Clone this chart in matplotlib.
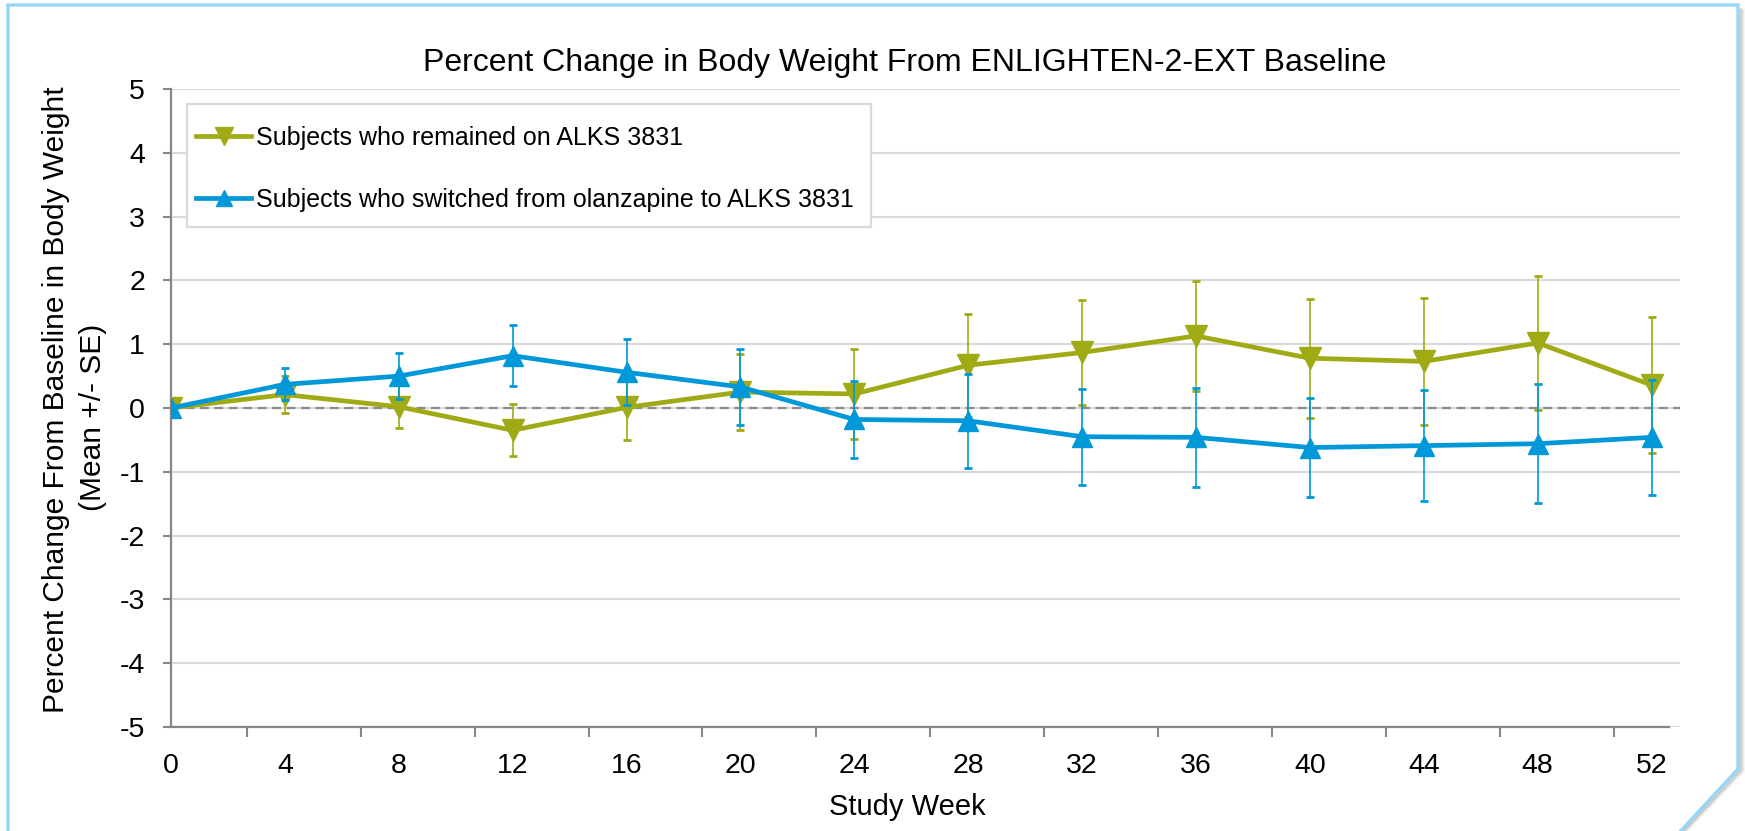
import matplotlib
matplotlib.use("Agg")
import matplotlib.pyplot as plt
from matplotlib.lines import Line2D
from matplotlib.patches import Rectangle
import numpy as np

plt.rcParams['font.family'] = ['Liberation Sans', 'DejaVu Sans']

# ---- data ----
weeks = [0, 4, 8, 12, 16, 20, 24, 28, 32, 36, 40, 44, 48, 52]
remain_mean = [0.0, 0.21, 0.02, -0.35, 0.01, 0.25, 0.22, 0.67, 0.87, 1.13, 0.78, 0.73, 1.02, 0.36]
remain_se = [0.0, 0.29, 0.34, 0.41, 0.51, 0.60, 0.71, 0.81, 0.83, 0.86, 0.93, 0.99, 1.05, 1.07]
switch_mean = [0.0, 0.37, 0.50, 0.82, 0.56, 0.33, -0.18, -0.20, -0.45, -0.46, -0.62, -0.59, -0.56, -0.46]
switch_se = [0.0, 0.25, 0.36, 0.48, 0.52, 0.59, 0.60, 0.74, 0.75, 0.78, 0.78, 0.87, 0.93, 0.90]
remain_label = "Subjects who remained on ALKS 3831"
switch_label = "Subjects who switched from olanzapine to ALKS 3831"
title = "Percent Change in Body Weight From ENLIGHTEN-2-EXT Baseline"
ylabel1 = "Percent Change From Baseline in Body Weight"
ylabel2 = "(Mean +/- SE)"
xlabel = "Study Week"
yticks = [-5, -4, -3, -2, -1, 0, 1, 2, 3, 4, 5]

OLIVE = '#A0AA14'
BLUE = '#0098D8'
GRID = '#D9D9D9'
SPINE = '#868686'

W, H = 1745, 831
fig = plt.figure(figsize=(W / 100, H / 100), dpi=100)
fig.patch.set_facecolor('white')

def fx(x):
    return x / W

def fy(y):
    return 1 - y / H

ax = fig.add_axes([fx(171), fy(727), fx(1680) - fx(171), fy(89) - fy(727)])
ax.set_xlim(0, 53)
ax.set_ylim(-5, 5)

# grid
ax.set_yticks(yticks)
ax.yaxis.grid(True, color=GRID, lw=1.6, zorder=0)
ax.set_axisbelow(True)
ax.axhline(0, color='#8C8C8C', lw=1.6, ls=(0, (4, 2.5)), zorder=1)

# series
ax.errorbar(weeks, remain_mean, yerr=remain_se, color=OLIVE, lw=3.4,
            marker='v', ms=16, mec=OLIVE, mfc=OLIVE,
            ecolor=OLIVE, elinewidth=1.2, capsize=3, capthick=2, zorder=3)
ax.errorbar(weeks, switch_mean, yerr=switch_se, color=BLUE, lw=3.4,
            marker='^', ms=14, mec=BLUE, mfc=BLUE,
            ecolor=BLUE, elinewidth=1.2, capsize=3, capthick=2, zorder=4)

# spines
for s in ['top', 'right']:
    ax.spines[s].set_visible(False)
for s in ['left', 'bottom']:
    ax.spines[s].set_color(SPINE)
    ax.spines[s].set_linewidth(1.6)
ax.spines['bottom'].set_bounds(0, 52.6)
ax.spines['bottom'].set_zorder(2)

# ticks
ax.set_xticks(weeks)
ax.set_xticklabels([str(w) for w in weeks])
ax.set_xticks([w - 4 / 3 for w in weeks[1:]], minor=True)
ax.tick_params(axis='x', which='major', length=0, pad=18.5, labelsize=20.5)
ax.tick_params(axis='x', which='minor', length=7.2, width=1.5, color=SPINE, direction='out')
ax.tick_params(axis='y', which='major', length=5.8, width=1.5, color=SPINE, pad=13,
               labelsize=20.5)
ax.set_yticklabels([str(t) for t in yticks])

# legend frame (drawn separately) and legend entries
fig.add_artist(Rectangle((fx(187), fy(227)), fx(871) - fx(187), fy(104) - fy(227),
                         transform=fig.transFigure, facecolor='white',
                         edgecolor=GRID, lw=1.6, zorder=5))
handles = [Line2D([], [], color=OLIVE, lw=3.4, marker='v', ms=12.5, mfc=OLIVE, mec=OLIVE),
           Line2D([], [], color=BLUE, lw=3.4, marker='^', ms=12, mfc=BLUE, mec=BLUE)]
leg = fig.legend(handles, [remain_label, switch_label],
                 loc='upper left', bbox_to_anchor=(fx(196), fy(126)),
                 bbox_transform=fig.transFigure, borderaxespad=0,
                 fontsize=18, frameon=False,
                 handlelength=2.2, handletextpad=0.2,
                 labelspacing=1.5, borderpad=0, numpoints=1)
leg.set_zorder(6)

# texts
fig.text(fx(905), fy(71), title, ha='center', va='baseline', fontsize=23)
fig.text(fx(907), fy(815), xlabel, ha='center', va='baseline', fontsize=21)
fig.text(fx(56), fy(400), ylabel1, ha='center', va='center', rotation=90, fontsize=21.5)
fig.text(fx(93), fy(417), ylabel2, ha='center', va='center', rotation=90, fontsize=21.5)

# frame with folded corner and shadow
border_x = [8, 8, 1738, 1738, 1676]
border_y = [H + 5, 5, 5, 769, H + 5]
for i, a in enumerate([0.10, 0.07, 0.05, 0.03, 0.02]):
    off = i + 2
    sx = [1738 + off, 1738 + off, 1676 + off]
    sy = [10, 769 + off * 0.4, H + 5]
    fig.add_artist(Line2D([fx(v) for v in sx], [fy(v) for v in sy],
                          color='black', alpha=a, lw=2.2, transform=fig.transFigure))
fig.add_artist(Line2D([fx(v) for v in border_x], [fy(v) for v in border_y],
                      color='#94D7F7', lw=2.4, solid_joinstyle='miter',
                      transform=fig.transFigure))

fig.savefig('out.png', dpi=100, facecolor='white')
